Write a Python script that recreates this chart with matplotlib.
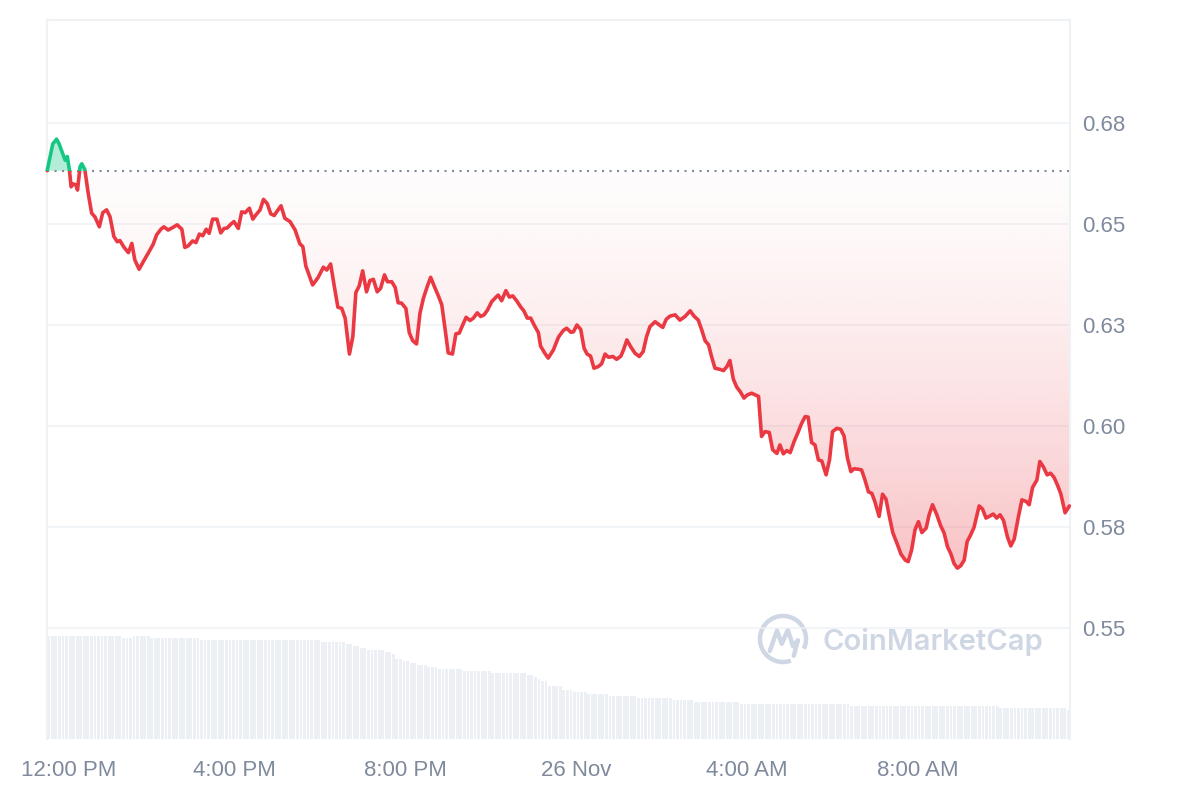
"""Price chart, 24h, CoinMarketCap style (price line + volume bars)."""
import numpy as np
import matplotlib
matplotlib.use("Agg")
import matplotlib.pyplot as plt
import matplotlib.transforms as mtransforms
from matplotlib.colors import to_rgb
from matplotlib.patches import Rectangle, PathPatch, Arc
from matplotlib.path import Path

plt.rcParams["font.family"] = ["Liberation Sans", "DejaVu Sans"]

RED = "#ea3943"
GREEN = "#16c784"
GREY = "#808a9d"
GRID = "#eff2f5"
BAR = "#eceff3"

# hours since 12:00 PM (25 Nov)
hours = [-0.37, -0.24, -0.15, -0.09, -0.01, 0.05, 0.10, 0.15, 0.19, 0.24, 0.30, 0.34, 0.40, 0.44,
         0.51, 0.59, 0.67, 0.75, 0.85, 0.93, 1.02, 1.10, 1.19, 1.27, 1.33, 1.43, 1.53, 1.61, 1.68,
         1.78, 1.88, 2.00, 2.11, 2.19, 2.29, 2.36, 2.46, 2.58, 2.67, 2.78, 2.85, 2.93, 3.03, 3.11,
         3.19, 3.27, 3.35, 3.42, 3.50, 3.60, 3.69, 3.77, 3.84, 3.92, 4.00, 4.10, 4.18, 4.26, 4.36,
         4.44, 4.51, 4.61, 4.69, 4.78, 4.86, 4.94, 5.01, 5.10, 5.19, 5.31, 5.43, 5.54, 5.61, 5.68,
         5.84, 5.97, 6.09, 6.17, 6.26, 6.36, 6.43, 6.52, 6.60, 6.70, 6.78, 6.85, 6.93, 7.01, 7.10,
         7.18, 7.26, 7.35, 7.43, 7.52, 7.59, 7.69, 7.77, 7.84, 7.92, 8.02, 8.10, 8.18, 8.27, 8.35,
         8.43, 8.52, 8.60, 8.68, 8.78, 8.86, 8.94, 9.01, 9.11, 9.19, 9.27, 9.35, 9.43, 9.52, 9.60,
         9.69, 9.77, 9.85, 9.93, 10.03, 10.13, 10.18, 10.26, 10.36, 10.44, 10.52, 10.61, 10.71,
         10.78, 10.86, 10.94, 11.02, 11.12, 11.17, 11.27, 11.35, 11.47, 11.59, 11.70, 11.78, 11.88,
         11.94, 12.02, 12.11, 12.19, 12.26, 12.34, 12.42, 12.52, 12.60, 12.68, 12.76, 12.86, 12.95,
         13.05, 13.11, 13.19, 13.28, 13.38, 13.48, 13.57, 13.65, 13.73, 13.85, 13.95, 14.03, 14.11,
         14.20, 14.32, 14.43, 14.55, 14.67, 14.76, 14.86, 14.94, 15.02, 15.10, 15.17, 15.25, 15.37,
         15.45, 15.53, 15.60, 15.68, 15.76, 15.84, 15.93, 16.01, 16.11, 16.27, 16.34, 16.42, 16.52,
         16.60, 16.70, 16.77, 16.85, 16.93, 17.01, 17.10, 17.20, 17.28, 17.36, 17.43, 17.51, 17.59,
         17.67, 17.75, 17.85, 17.93, 18.00, 18.10, 18.19, 18.27, 18.35, 18.43, 18.50, 18.60, 18.68,
         18.76, 18.84, 18.92, 18.99, 19.09, 19.17, 19.25, 19.33, 19.41, 19.52, 19.60, 19.70, 19.77,
         19.85, 19.93, 20.01, 20.09, 20.19, 20.26, 20.34, 20.44, 20.53, 20.61, 20.69, 20.77, 20.84,
         20.92, 21.00, 21.08, 21.15, 21.23, 21.31, 21.43, 21.51, 21.59, 21.68, 21.76, 21.84, 21.92,
         22.00, 22.09, 22.17, 22.25, 22.35, 22.43, 22.53, 22.60, 22.68, 22.78, 22.85, 22.93, 23.02,
         23.10, 23.18, 23.26, 23.34, 23.44, 23.54]
prices = [0.6632, 0.6698, 0.6710, 0.6698, 0.6675, 0.6658, 0.6667, 0.6634, 0.6592, 0.6599, 0.6597,
          0.6584, 0.6642, 0.6649, 0.6635, 0.6576, 0.6527, 0.6517, 0.6493, 0.6528, 0.6535, 0.6518,
          0.6469, 0.6456, 0.6459, 0.6442, 0.6429, 0.6452, 0.6411, 0.6388, 0.6407, 0.6429, 0.6450,
          0.6473, 0.6487, 0.6493, 0.6485, 0.6492, 0.6498, 0.6487, 0.6442, 0.6446, 0.6458, 0.6454,
          0.6475, 0.6471, 0.6487, 0.6477, 0.6512, 0.6512, 0.6478, 0.6489, 0.6490, 0.6499, 0.6506,
          0.6489, 0.6530, 0.6528, 0.6539, 0.6512, 0.6522, 0.6535, 0.6561, 0.6550, 0.6525, 0.6521,
          0.6532, 0.6545, 0.6514, 0.6506, 0.6485, 0.6451, 0.6444, 0.6396, 0.6349, 0.6368, 0.6393,
          0.6386, 0.6401, 0.6337, 0.6294, 0.6291, 0.6267, 0.6178, 0.6221, 0.6330, 0.6347, 0.6384,
          0.6332, 0.6360, 0.6363, 0.6332, 0.6341, 0.6374, 0.6357, 0.6357, 0.6343, 0.6305, 0.6304,
          0.6291, 0.6231, 0.6211, 0.6203, 0.6279, 0.6316, 0.6345, 0.6368, 0.6347, 0.6322, 0.6300,
          0.6238, 0.6181, 0.6178, 0.6228, 0.6230, 0.6250, 0.6269, 0.6261, 0.6267, 0.6280, 0.6271,
          0.6275, 0.6287, 0.6308, 0.6319, 0.6324, 0.6310, 0.6335, 0.6319, 0.6322, 0.6310, 0.6294,
          0.6285, 0.6267, 0.6267, 0.6250, 0.6231, 0.6198, 0.6180, 0.6168, 0.6188, 0.6220, 0.6236,
          0.6242, 0.6232, 0.6233, 0.6250, 0.6239, 0.6192, 0.6178, 0.6173, 0.6143, 0.6147, 0.6154,
          0.6178, 0.6170, 0.6172, 0.6165, 0.6173, 0.6188, 0.6213, 0.6196, 0.6180, 0.6172, 0.6184,
          0.6221, 0.6246, 0.6258, 0.6250, 0.6244, 0.6264, 0.6272, 0.6275, 0.6262, 0.6271, 0.6285,
          0.6272, 0.6262, 0.6238, 0.6211, 0.6201, 0.6172, 0.6143, 0.6140, 0.6137, 0.6147, 0.6162,
          0.6116, 0.6096, 0.6085, 0.6069, 0.6077, 0.6081, 0.6073, 0.5974, 0.5986, 0.5984, 0.5941,
          0.5932, 0.5953, 0.5931, 0.5939, 0.5934, 0.5961, 0.5986, 0.6007, 0.6023, 0.6022, 0.5959,
          0.5953, 0.5916, 0.5913, 0.5879, 0.5916, 0.5986, 0.5994, 0.5992, 0.5975, 0.5920, 0.5887,
          0.5894, 0.5893, 0.5891, 0.5866, 0.5837, 0.5833, 0.5813, 0.5776, 0.5831, 0.5819, 0.5776,
          0.5736, 0.5706, 0.5683, 0.5668, 0.5664, 0.5693, 0.5743, 0.5763, 0.5736, 0.5747, 0.5780,
          0.5805, 0.5780, 0.5753, 0.5735, 0.5701, 0.5683, 0.5660, 0.5648, 0.5654, 0.5668, 0.5714,
          0.5730, 0.5749, 0.5802, 0.5794, 0.5772, 0.5777, 0.5782, 0.5772, 0.5780, 0.5766, 0.5726,
          0.5703, 0.5720, 0.5776, 0.5817, 0.5813, 0.5805, 0.5848, 0.5866, 0.5912, 0.5899, 0.5879,
          0.5883, 0.5873, 0.5854, 0.5832, 0.5785, 0.5802]
open_price = 0.6632

# volume bars (5 min), stepped levels and how many bars stay on each level
vol_levels = [103.5, 101, 103.5, 101, 99, 97, 95, 93, 91, 89, 87, 85, 80, 78, 76, 74, 72, 70, 68,
              66, 64, 62, 60, 58, 53.5, 49.4, 47.3, 45.3, 43.2, 41.1, 39.1, 37, 35, 32.9, 30.8, 28.7]
vol_counts = [21, 3, 5, 14, 34, 7, 2, 2, 2, 5, 2, 1, 2, 2, 2, 3, 3, 7, 8,
              10, 2, 1, 1, 2, 4, 3, 4, 6, 8, 10, 6, 13, 31, 42, 19, 1]

tick_hours = [0, 4, 8, 12, 16, 20]
tick_names = ["12:00 PM", "4:00 PM", "8:00 PM", "26 Nov", "4:00 AM", "8:00 AM"]
price_ticks = [0.55, 0.575, 0.60, 0.625, 0.65, 0.675]
price_names = ["0.55", "0.58", "0.60", "0.63", "0.65", "0.68"]

t0, t1 = -0.374, 23.555
y0, y1 = 0.5225, 0.7005

t = np.array(hours)
p = np.array(prices)

fig = plt.figure(figsize=(12, 8), dpi=100)
pos = [47 / 1200, 1 - 739 / 800, 1023 / 1200, 719 / 800]
ax = fig.add_axes(pos)
axv = ax.twinx()
ax.set_zorder(axv.get_zorder() + 1)
ax.patch.set_visible(False)

# volume
volume = np.repeat(vol_levels, vol_counts)
edges = np.linspace(t0, t1, len(volume) + 1)
step = edges[1] - edges[0]
axv.bar(edges[:-1] + step / 2, volume, width=step * 0.8, color=BAR, linewidth=0)
axv.set_ylim(0, max(volume) * 6.95)
axv.set_yticks([])
for s in axv.spines.values():
    s.set_visible(False)

# grid
for v in price_ticks:
    ax.axhline(v, color=GRID, lw=1.1, zorder=0)

# red gradient under the open price
ny = 300
frac = np.linspace(1, 0, ny)
rgba = np.zeros((ny, 2, 4))
rgba[..., :3] = to_rgb(RED)
rgba[..., 3] = (0.015 + 0.29 * frac ** 1.4)[:, None]
im = ax.imshow(rgba, extent=(t0, t1, p.min(), open_price), origin="lower",
               aspect="auto", zorder=1, interpolation="bilinear")
fb = ax.fill_between(t, p, open_price, where=p < open_price, interpolate=True,
                     facecolor="none", edgecolor="none")
clip = PathPatch(Path.make_compound_path(*fb.get_paths()), transform=ax.transData,
                 facecolor="none", edgecolor="none")
ax.add_patch(clip)
im.set_clip_path(clip)

# green fill above the open price
ax.fill_between(t, p, open_price, where=p > open_price, interpolate=True,
                facecolor=GREEN, alpha=0.32, edgecolor="none", zorder=1)

ax.axhline(open_price, color=GREY, lw=1.5, ls=(0, (1, 2.6)), zorder=2)

lr, = ax.plot(t, p, color=RED, lw=2.6, zorder=4, solid_joinstyle="round", solid_capstyle="round")
lr.set_clip_path(Rectangle((t0 - 1, 0), 30, open_price, transform=ax.transData))
lg, = ax.plot(t, p, color=GREEN, lw=2.6, zorder=4, solid_joinstyle="round", solid_capstyle="round")
lg.set_clip_path(Rectangle((t0 - 1, open_price), 30, 1, transform=ax.transData))

ax.set_xlim(t0, t1)
ax.set_ylim(y0, y1)
ax.set_xticks(tick_hours, tick_names)
ax.yaxis.tick_right()
ax.set_yticks(price_ticks, price_names)
ax.tick_params(axis="both", length=0, labelsize=16, labelcolor=GREY)
ax.tick_params(axis="x", pad=15)
ax.tick_params(axis="y", pad=9)
# first date label is pushed right so it stays inside the chart
first = ax.get_xticklabels()[0]
first.set_transform(first.get_transform() + mtransforms.ScaledTranslation(6 / 100, 0, fig.dpi_scale_trans))
for k, s in ax.spines.items():
    s.set_color(GRID)
    s.set_linewidth(1.5)
ax.spines["bottom"].set_visible(False)

# watermark
fig.text(822 / 1200, 1 - 642 / 800, "CoinMarketCap", family="Inter", weight="semibold",
         fontsize=21, color="#cfd6e4", va="center", ha="left")
lax = fig.add_axes([753 / 1200, 1 - 669 / 800, 60 / 1200, 60 / 800])
lax.set_xlim(-1.25, 1.25)
lax.set_ylim(-1.25, 1.25)
lax.axis("off")
lax.add_patch(Arc((0, 0), 1.92, 1.92, theta1=-25, theta2=290, color="#cfd6e4", lw=3.2))
lax.plot([-0.55, -0.25, -0.05, 0.2, 0.42, 0.62, 0.45],
         [-0.5, 0.35, -0.2, 0.38, -0.3, -0.05, -0.7],
         color="#cfd6e4", lw=3.2, solid_capstyle="round", solid_joinstyle="round")

fig.savefig("out.png", dpi=100)
